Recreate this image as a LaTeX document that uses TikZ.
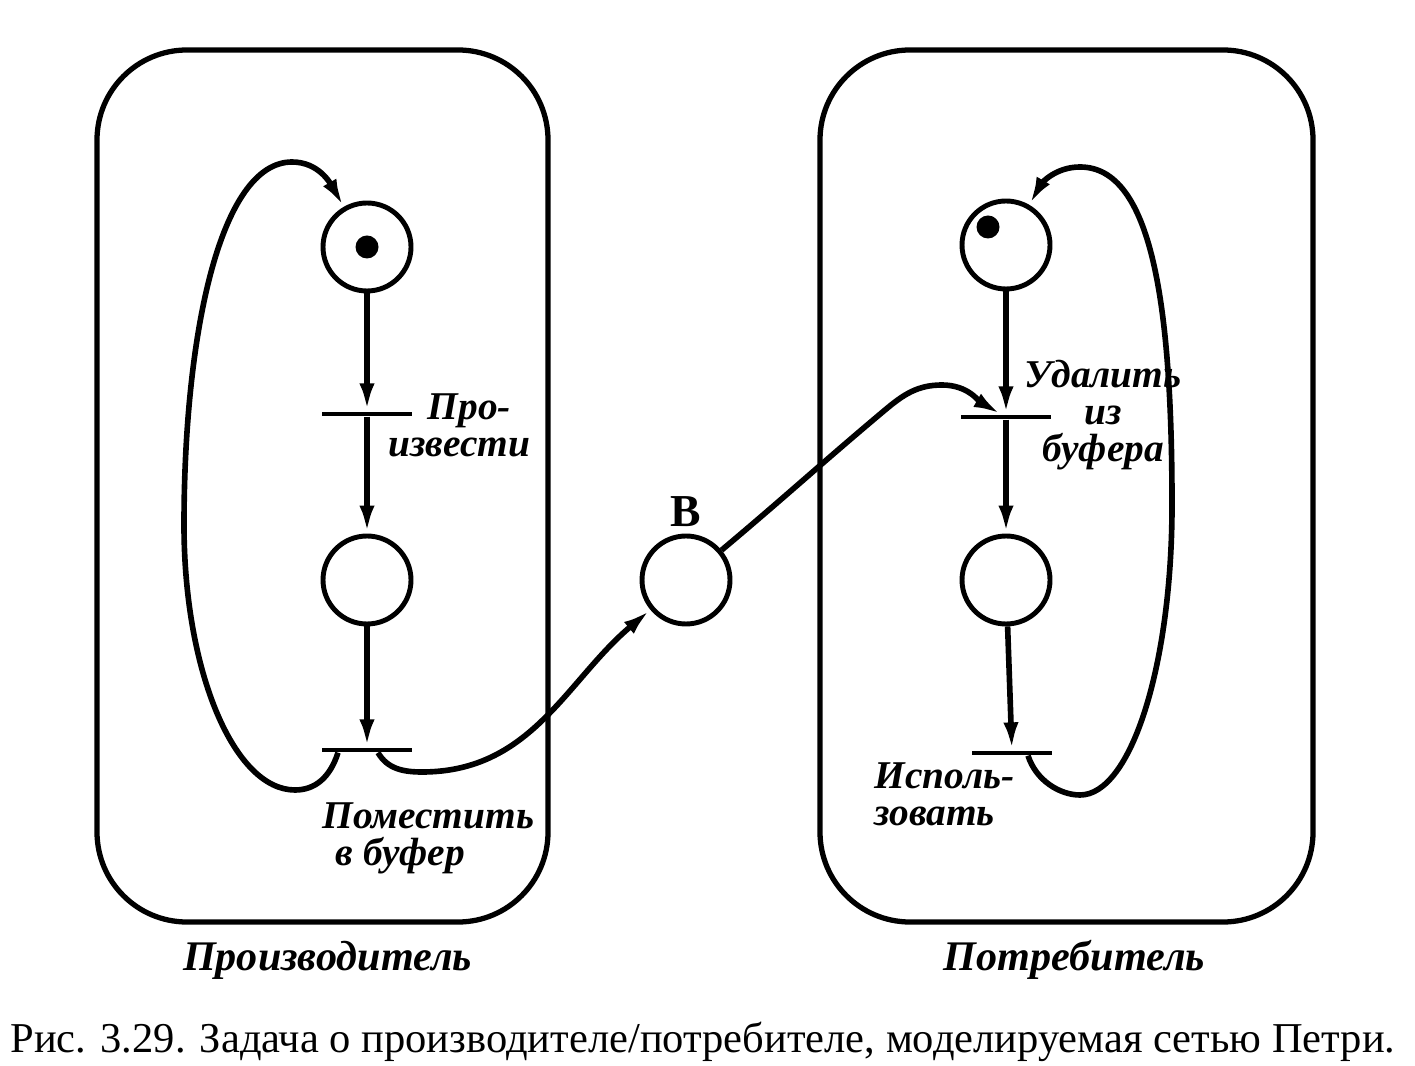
\documentclass[tikz,border=0pt]{standalone}
\usepackage{fontspec}
\setmainfont{Liberation Serif}
\usetikzlibrary{positioning, arrows.meta}
\tikzset{
	place/.append style={
		draw, circle,
		line width=1.4pt,
		minimum size=8.8mm,
		inner sep=0mm,
	},
	token/.append style={
		fill, circle,
		minimum size=2.3mm,
		inner sep=0mm,
	},
	transition/.append style={
		fill, rectangle,
		minimum width=9mm,
		minimum height=1.1pt,
		inner sep=0mm,
	},
	flow/.append style={
		line width=1.6pt,
		-{Latex[length=2.8mm,width=1.5mm]},
	},
	group/.append style={
		draw,
		rounded corners=9mm,
		line width=1.5pt,
		minimum height=8.72cm,
		inner sep=0mm,
	},
	tlabel/.append style={
		align = center,
		inner sep=0mm,
		font={\fontsize{11.2}{10.5}\selectfont\bfseries\itshape}
	},
	grouplabel/.append style={
		inner sep=0mm,
		font={\fontsize{12}{12}\selectfont\bfseries\itshape}
	},
	bufname/.append style={
		inner sep=0mm,
		font={\fontsize{13}{13}\selectfont\bfseries}
	},
	caption/.append style={
		inner sep=0mm,
		font={\fontsize{12.1}{12}\selectfont}
	}
}

\begin{document}
\begin{tikzpicture}[on grid]
	\useasboundingbox (0,0) rectangle (14.15,10.65);
	% the two processes
	\node[group, minimum width=4.51cm] (producer) at (3.225,5.79) {};
	\node[group, minimum width=4.93cm] (consumer) at (10.665,5.79) {};
	\node[grouplabel, below right=4.74cm and 0.05cm of producer] (prodname) {Производитель};
	\node[grouplabel, below right=4.74cm and 0.08cm of consumer] (consname) {Потребитель};

	% producer
	\node[place] (ready) at (3.67,8.18) {};
	\node[token] (readytok) at (ready) {};
	\node[transition] (produce) [below=1.67cm of ready] {};
	\node[place] (full) [below=1.66cm of produce] {};
	\node[transition] (put) [below=1.70cm of full] {};

	% consumer
	\node[place] (wait) at (10.06,8.20) {};
	\node[token] (waittok) at ([shift={(-0.18,0.18)}]wait.center) {};
	\node[transition] (take) [below=1.72cm of wait] {};
	\node[place] (got) [below=1.63cm of take] {};
	\node[transition, minimum width=8mm] (use) [below right=1.73cm and 0.06cm of got] {};

	% buffer
	\node[place] (buffer) at (6.86,4.85) {};
	\node[bufname, above=0.68cm of buffer] (buflabel) {В};

	\node[tlabel, align=left, anchor=west] (producelabel) at (3.88,6.40) {\hspace{3.9mm}Про-\\извести};
	\node[tlabel, align=left, anchor=west] (putlabel) at (3.22,2.27) {Поместить\\\hspace{1.3mm}в буфер};
	\node[tlabel] (takelabel) at (11.03,6.50) {Удалить\\из\\буфера};
	\node[tlabel, align=left, anchor=west] (uselabel) at (8.74,2.71) {Исполь-\\зовать};

	\node[caption] (fig) at (7.03,0.23) {Рис. 3.29. Задача о производителе/потребителе, моделируемая сетью Петри.};

	% arcs
	\draw[flow] (ready) -- (produce);
	\draw[flow] (produce) -- (full);
	\draw[flow] (full) -- (put);
	\coordinate (putl) at ([xshift=-2.9mm]put.south);
	\coordinate (putr) at ([xshift=1.1mm]put.south);
	\draw[flow] (putl) .. controls +(-0.08,-0.25) and +(0.2,0) .. (2.95,2.75)
		.. controls +(-0.61,0) and +(0,-1.46) .. (1.84,5.4)
		.. controls +(0,1.9) and +(-0.72,0) .. (2.92,9.03)
		to[out=0,in=120] (ready);
	\draw[flow] (putr) to[out=-60,in=180] (4.22,2.93) to[out=0,in=220] (buffer);
	\draw[flow] (buffer) to[out=40,in=220] (8.85,6.55) to[out=40,in=180] (9.42,6.8)
		to[out=0,in=150] (take);
	\draw[flow] (wait) -- (take);
	\draw[flow] (take) -- (got);
	\draw[flow] (got) -- (use);
	\coordinate (user) at ([xshift=1.6mm]use.south);
	\draw[flow] (user) .. controls +(0.08,-0.25) and +(-0.2,0) .. (10.8,2.7)
		.. controls +(0.51,0) and +(0,-1.6) .. (11.72,5.6)
		.. controls +(0,2.0) and +(0.72,0) .. (10.8,8.98)
		to[out=180,in=60] (wait);
\end{tikzpicture}
\end{document}
